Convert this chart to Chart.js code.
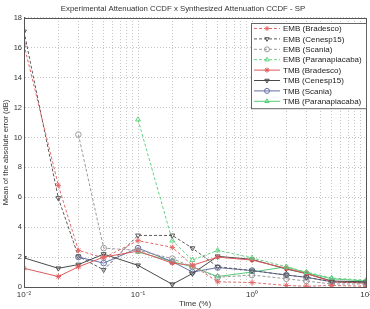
<!DOCTYPE html>
<html>
<head>
<meta charset="utf-8">
<script src="https://cdn.jsdelivr.net/npm/chart.js@4.4.0/dist/chart.umd.min.js"></script>
<style>
  html, body { margin: 0; padding: 0; background: #fff; }
</style>
</head>
<body>
<canvas id="grafica" width="370" height="309"></canvas>
<script>
// datos
const timePct = [0.01, 0.02, 0.03, 0.05, 0.1, 0.2, 0.3, 0.5, 1, 2, 3, 5, 10];
const xDecades = [0.01, 0.1, 1, 10];
const xTickLabels = ['10⁻²', '10⁻¹', '10⁰', '10¹'];
const yTickValues = [0, 2, 4, 6, 8, 10, 12, 14, 16, 18];

const seriesNames = ['EMB (Bradesco)', 'EMB (Cenesp15)', 'EMB (Scania)', 'EMB (Paranapiacaba)',
                     'TMB (Bradesco)', 'TMB (Cenesp15)', 'TMB (Scania)', 'TMB (Paranapiacaba)'];

const embBradesco      = [16.2, 6.8, 2.45, 1.95, 3.1, 2.65, 1.45, 0.35, 0.3, 0.1, 0.05, 0.1, 0.05];
const embCenesp15      = [17.1, 5.95, 2.05, 1.15, 3.45, 3.45, 2.6, 1.35, 1.1, 0.8, 0.65, 0.35, 0.3];
const embScania        = [null, null, 10.2, 2.6, 2.45, 1.9, 1.35, 0.65, 0.8, 0.55, 0.4, 0.2, 0.2];
const embParanapiacaba = [null, null, null, null, 11.2, 3.1, 1.8, 2.45, 1.95, 1.35, 1.0, 0.6, 0.45];
const tmbBradesco      = [1.25, 0.7, 1.35, 2.0, 2.4, 1.6, 1.45, 2.0, 1.8, 1.25, 0.9, 0.35, 0.25];
const tmbCenesp15      = [1.95, 1.25, 1.5, 2.2, 1.45, 0.18, 0.9, 2.05, 1.85, 1.2, 0.9, 0.4, 0.35];
const tmbScania        = [null, null, 2.0, 1.6, 2.6, 1.7, 1.0, 1.3, 1.1, 0.8, 0.65, 0.35, 0.3];
const tmbParanapiacaba = [null, null, null, null, 2.35, 1.7, 1.35, 0.7, 1.0, 1.35, 0.95, 0.55, 0.4];

const seriesValues = [embBradesco, embCenesp15, embScania, embParanapiacaba,
                      tmbBradesco, tmbCenesp15, tmbScania, tmbParanapiacaba];
const seriesColors = ['#e46a6a', '#5a5a5a', '#9a9a9a', '#62d282',
                      '#e05a5a', '#4a4a4a', '#6470a8', '#55cc77'];
const seriesMarkers = ['star', 'triangle', 'circle', 'triangle', 'star', 'triangle', 'circle', 'triangle'];
const seriesRotation = [0, 180, 0, 0, 0, 180, 0, 0];
const seriesDashed = [true, true, true, true, false, false, false, false];

const FONT = 'Liberation Sans, Arial, sans-serif';

function esDecada(v) {
    const l = Math.log10(v);
    return Math.abs(l - Math.round(l)) < 1e-9;
}

// caja completa (lados de arriba y derecha)
const cajaPlugin = {
    id: 'caja',
    afterDraw(chart) {
        const { ctx, chartArea: a } = chart;
        ctx.save();
        ctx.strokeStyle = '#555';
        ctx.lineWidth = 1;
        ctx.strokeRect(Math.round(a.left) + 0.5, Math.round(a.top) + 0.5,
                       Math.round(a.right - a.left), Math.round(a.bottom - a.top));
        ctx.restore();
    }
};

// leyenda dentro del area, arriba a la derecha (estilo matlab)
const leyendaPlugin = {
    id: 'leyendaInterna',
    afterDraw(chart) {
        const { ctx, chartArea: a } = chart;
        const w = 115, rowH = 10.4;
        const h = seriesNames.length * rowH + 2;
        const x0 = Math.round(a.right) - w, y0 = Math.round(a.top) + 5;
        ctx.save();
        ctx.fillStyle = '#fff';
        ctx.fillRect(x0, y0, w, h);
        ctx.strokeStyle = '#666';
        ctx.lineWidth = 1;
        ctx.strokeRect(x0 + 0.5, y0 + 0.5, w, h);
        ctx.font = '8px ' + FONT;
        ctx.textBaseline = 'middle';
        chart.data.datasets.forEach((ds, i) => {
            const y = y0 + 5.5 + i * rowH;
            ctx.strokeStyle = ds.borderColor;
            ctx.lineWidth = 1;
            ctx.setLineDash(ds.borderDash || []);
            ctx.beginPath();
            ctx.moveTo(x0 + 3, y);
            ctx.lineTo(x0 + 29, y);
            ctx.stroke();
            ctx.setLineDash([]);
            ctx.fillStyle = 'rgba(0,0,0,0)';
            if (Chart.helpers && Chart.helpers.drawPoint) {
                Chart.helpers.drawPoint(ctx, {
                    pointStyle: ds.pointStyle, rotation: ds.pointRotation,
                    radius: 2.5, borderWidth: 1
                }, x0 + 16, y);
            }
            ctx.fillStyle = '#222';
            ctx.fillText(ds.label, x0 + 32, y + 0.5);
        });
        ctx.restore();
    }
};

function cargarGrafica() {
    const ctx = document.getElementById('grafica');
    const datasets = seriesNames.map((name, i) => ({
        label: name,
        data: timePct.map((t, j) => ({ x: t, y: seriesValues[i][j] })),
        borderColor: seriesColors[i],
        backgroundColor: 'rgba(0,0,0,0)',
        borderWidth: 1,
        borderDash: seriesDashed[i] ? [3, 2] : [],
        pointStyle: seriesMarkers[i],
        pointRotation: seriesRotation[i],
        pointRadius: 2.8,
        pointBorderWidth: 1,
        pointBorderColor: seriesColors[i],
        pointBackgroundColor: 'rgba(0,0,0,0)',
        tension: 0,
        spanGaps: false
    }));

    new Chart(ctx, {
        type: 'line',
        data: { datasets },
        options: {
            responsive: false,
            animation: false,
            devicePixelRatio: 1,
            layout: { autoPadding: false, padding: { top: 1, right: 4, left: 0, bottom: 0 } },
            plugins: {
                legend: { display: false },
                tooltip: { enabled: false },
                title: {
                    display: true,
                    text: 'Experimental Attenuation CCDF x Synthesized Attenuation CCDF - SP',
                    color: '#333',
                    font: { size: 7.8, weight: 'normal', family: FONT },
                    padding: { top: 3.5, bottom: 4.1 }
                }
            },
            scales: {
                x: {
                    type: 'logarithmic',
                    min: 0.01,
                    max: 10,
                    afterBuildTicks(scale) {
                        const ticks = [];
                        for (let d = 0; d < xDecades.length - 1; d++) {
                            for (let k = 1; k <= 9; k++) ticks.push({ value: xDecades[d] * k });
                        }
                        ticks.push({ value: xDecades[xDecades.length - 1] });
                        scale.ticks = ticks;
                    },
                    afterFit(scale) {
                        scale.height = 22;
                        scale.paddingLeft = 0;
                        scale.paddingRight = 0;
                    },
                    ticks: {
                        autoSkip: false,
                        maxRotation: 0,
                        padding: 3,
                        color: '#333',
                        font: { size: 8, family: FONT },
                        callback(value) {
                            if (!esDecada(value)) return '';
                            const idx = xDecades.findIndex(d => Math.abs(Math.log10(d) - Math.log10(value)) < 1e-9);
                            return idx >= 0 ? xTickLabels[idx] : '';
                        }
                    },
                    grid: { color: '#c4c4c4', lineWidth: 1, drawTicks: false },
                    border: { color: '#555', width: 1, dash: [1, 2] },
                    title: {
                        display: true,
                        text: 'Time (%)',
                        color: '#333',
                        font: { size: 8, family: FONT },
                        padding: { top: 0, bottom: 0 }
                    }
                },
                y: {
                    min: 0,
                    max: 18,
                    afterBuildTicks(scale) {
                        scale.ticks = yTickValues.map(v => ({ value: v }));
                    },
                    afterFit(scale) {
                        scale.width = 24;
                        scale.paddingTop = 0;
                        scale.paddingBottom = 0;
                    },
                    ticks: {
                        padding: 2,
                        color: '#333',
                        font: { size: 7.5, family: FONT }
                    },
                    grid: { color: '#c4c4c4', lineWidth: 1, drawTicks: false },
                    border: { color: '#555', width: 1, dash: [1, 2] },
                    title: {
                        display: true,
                        text: 'Mean of the absolute error (dB)',
                        color: '#333',
                        font: { size: 7.6, family: FONT },
                        padding: { top: 1, bottom: 0 }
                    }
                }
            }
        },
        plugins: [cajaPlugin, leyendaPlugin]
    });
}

document.addEventListener('DOMContentLoaded', cargarGrafica);
</script>
</body>
</html>
